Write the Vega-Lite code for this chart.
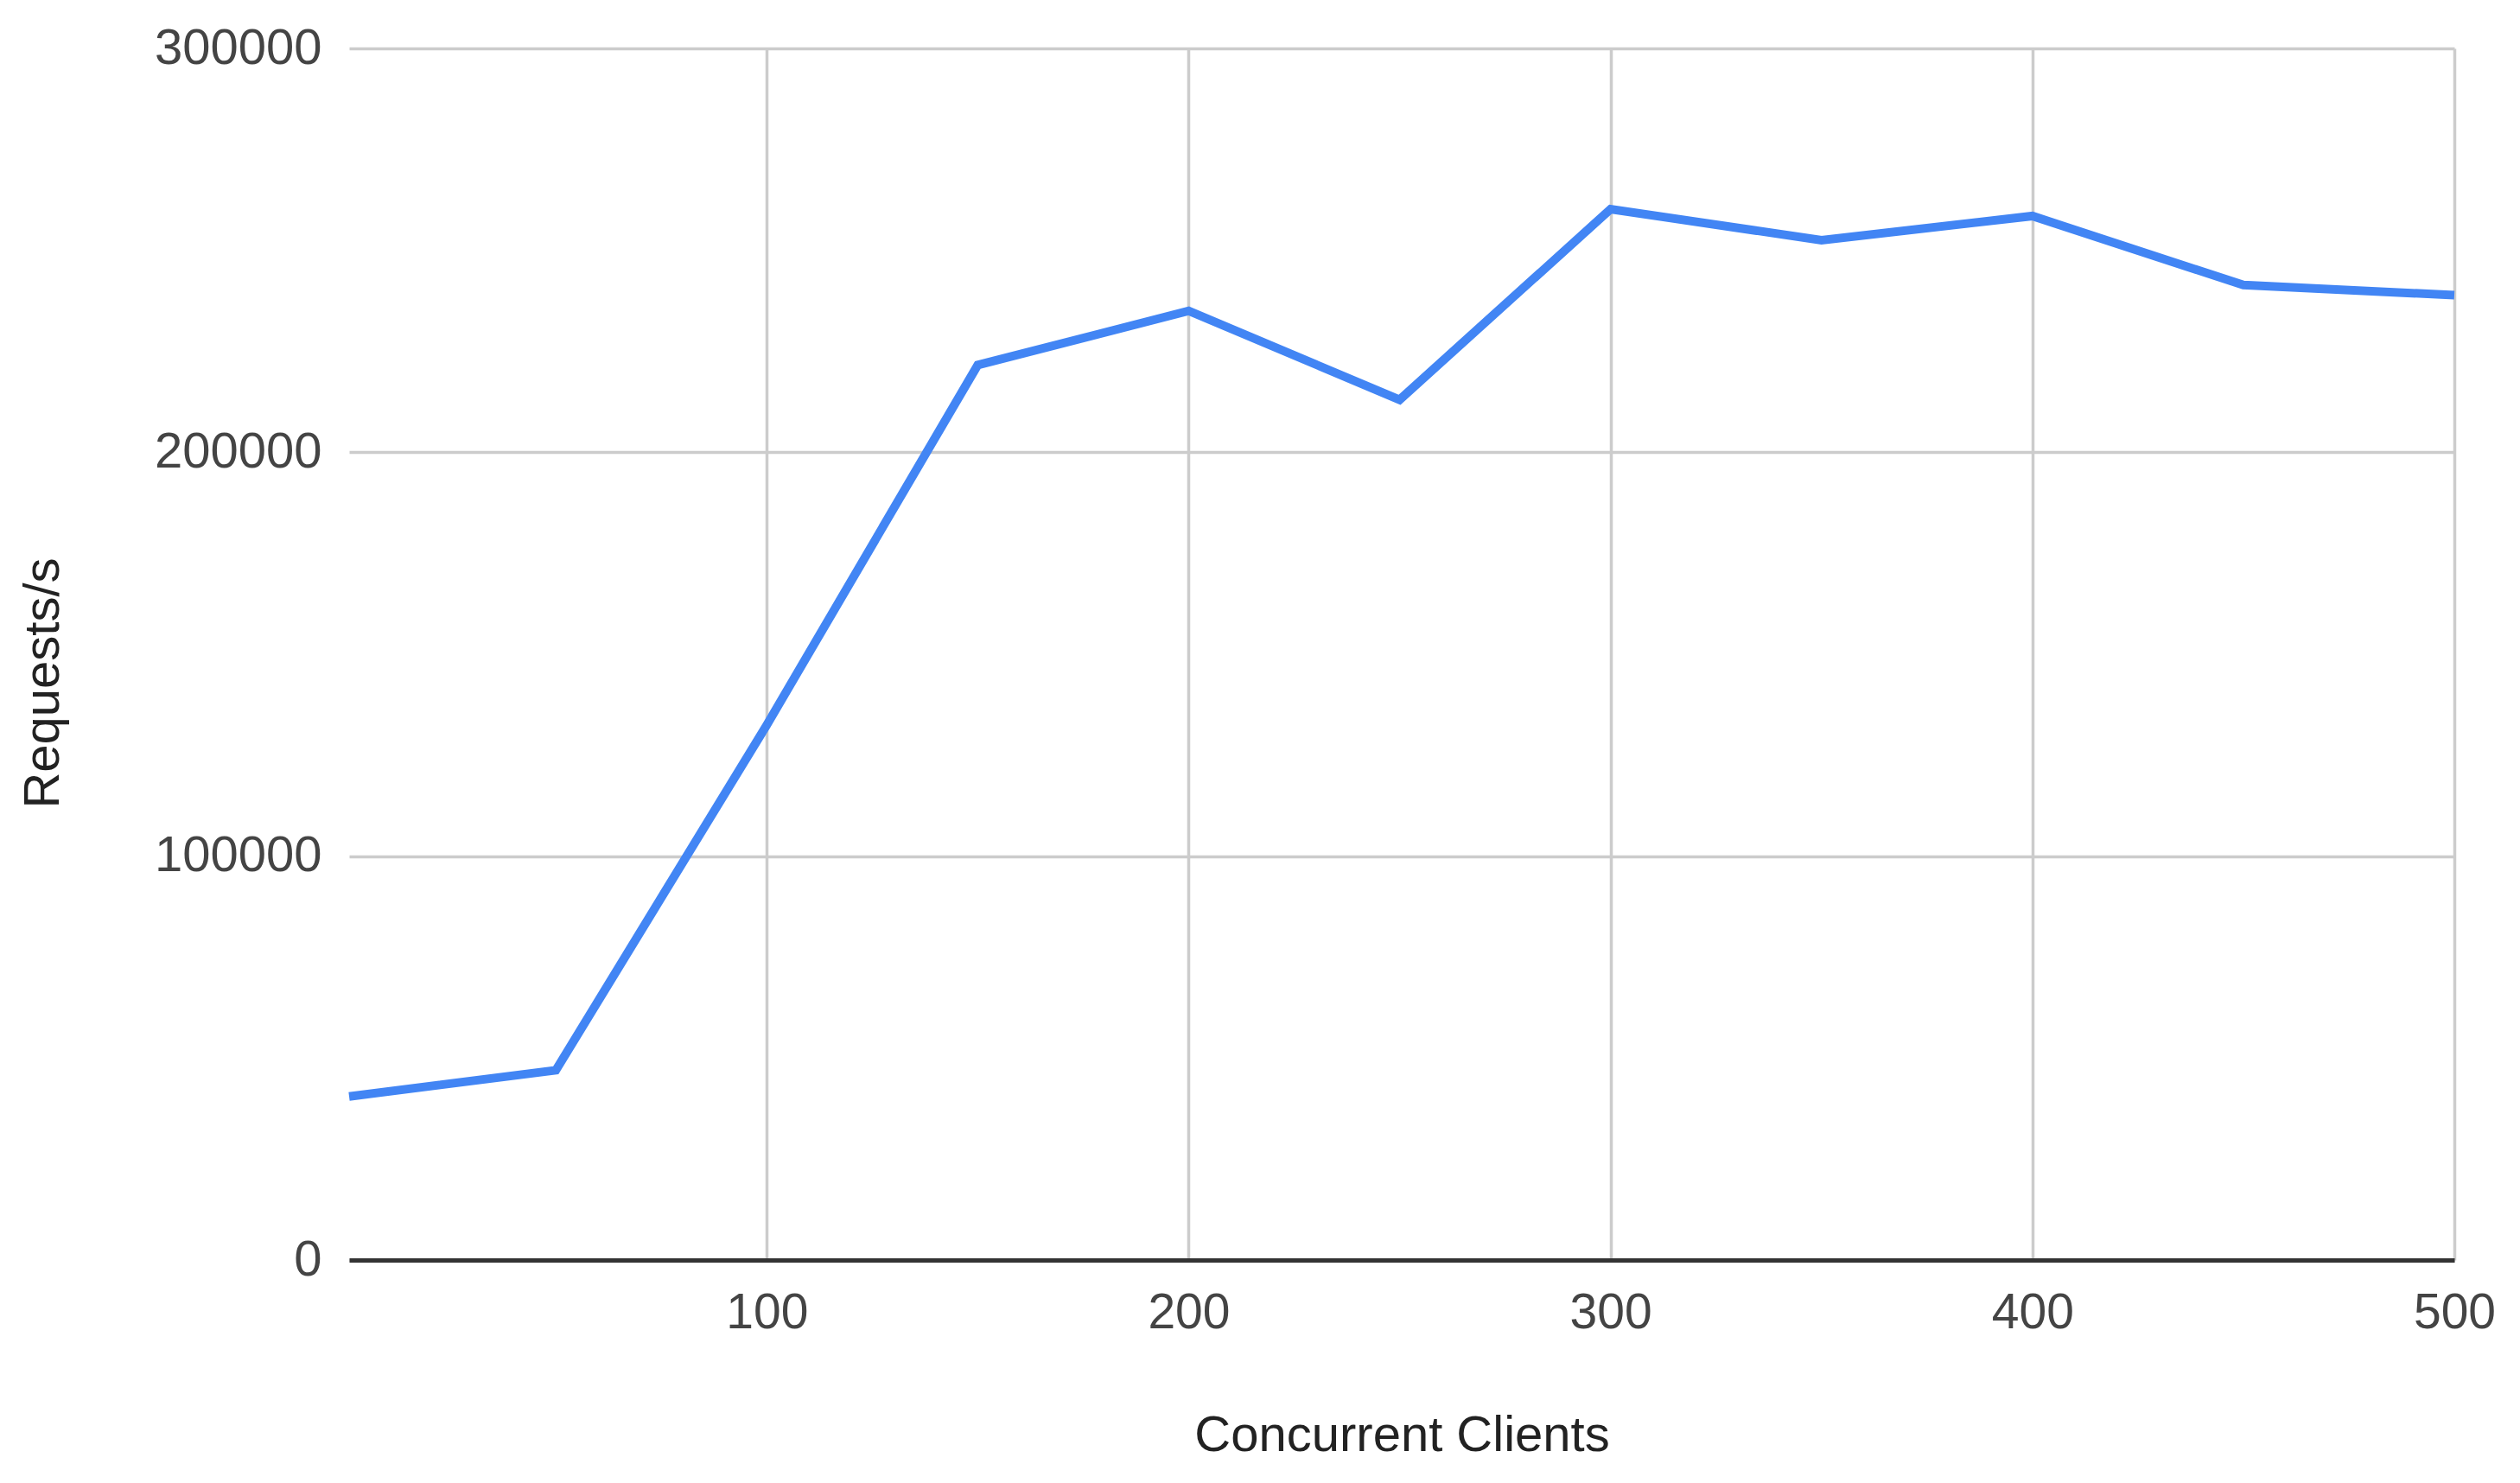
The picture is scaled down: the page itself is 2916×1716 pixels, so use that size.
{
  "$schema": "https://vega.github.io/schema/vega-lite/v6.json",
  "width": 2436,
  "height": 1402,
  "autosize": {"type": "none"},
  "padding": {"left": 404, "top": 56, "right": 76, "bottom": 258},
  "background": "white",
  "config": {
    "view": {"stroke": null},
    "font": "Liberation Sans"
  },
  "data": {
    "values": [
      {"clients": 1, "rps": 40500},
      {"clients": 50, "rps": 47000},
      {"clients": 100, "rps": 132500},
      {"clients": 150, "rps": 221600},
      {"clients": 200, "rps": 235000},
      {"clients": 250, "rps": 213000},
      {"clients": 300, "rps": 260200},
      {"clients": 350, "rps": 252500},
      {"clients": 400, "rps": 258500},
      {"clients": 450, "rps": 241400},
      {"clients": 500, "rps": 238900}
    ]
  },
  "mark": {"type": "line", "color": "#4285F4", "strokeWidth": 10, "strokeJoin": "miter"},
  "encoding": {
    "x": {
      "field": "clients",
      "type": "quantitative",
      "scale": {"domain": [1, 500], "nice": false, "zero": false},
      "axis": {
        "title": "Concurrent Clients",
        "values": [100, 200, 300, 400, 500],
        "format": "d",
        "grid": true,
        "gridColor": "#cccccc",
        "gridWidth": 3.5,
        "ticks": false,
        "domain": true,
        "domainColor": "#333333",
        "domainWidth": 5,
        "labelFontSize": 57,
        "labelColor": "#444444",
        "labelPadding": 33,
        "labelFlush": false,
        "labelLimit": 0,
        "titleFontSize": 58,
        "titleFontWeight": "normal",
        "titleColor": "#222222",
        "titleX": 1218,
        "titleY": 203,
        "titleBaseline": "middle",
        "titleAlign": "center"
      }
    },
    "y": {
      "field": "rps",
      "type": "quantitative",
      "scale": {"domain": [0, 300000], "nice": false},
      "axis": {
        "title": "Requests/s",
        "values": [0, 100000, 200000, 300000],
        "format": "d",
        "grid": true,
        "gridColor": "#cccccc",
        "gridWidth": 3.5,
        "ticks": false,
        "domain": false,
        "labelFontSize": 58,
        "labelColor": "#444444",
        "labelPadding": 32,
        "labelLimit": 0,
        "titleFontSize": 58,
        "titleFontWeight": "normal",
        "titleColor": "#222222",
        "titleAngle": -90,
        "titleX": -354,
        "titleY": 734,
        "titleBaseline": "middle",
        "titleAlign": "center"
      }
    }
  }
}
